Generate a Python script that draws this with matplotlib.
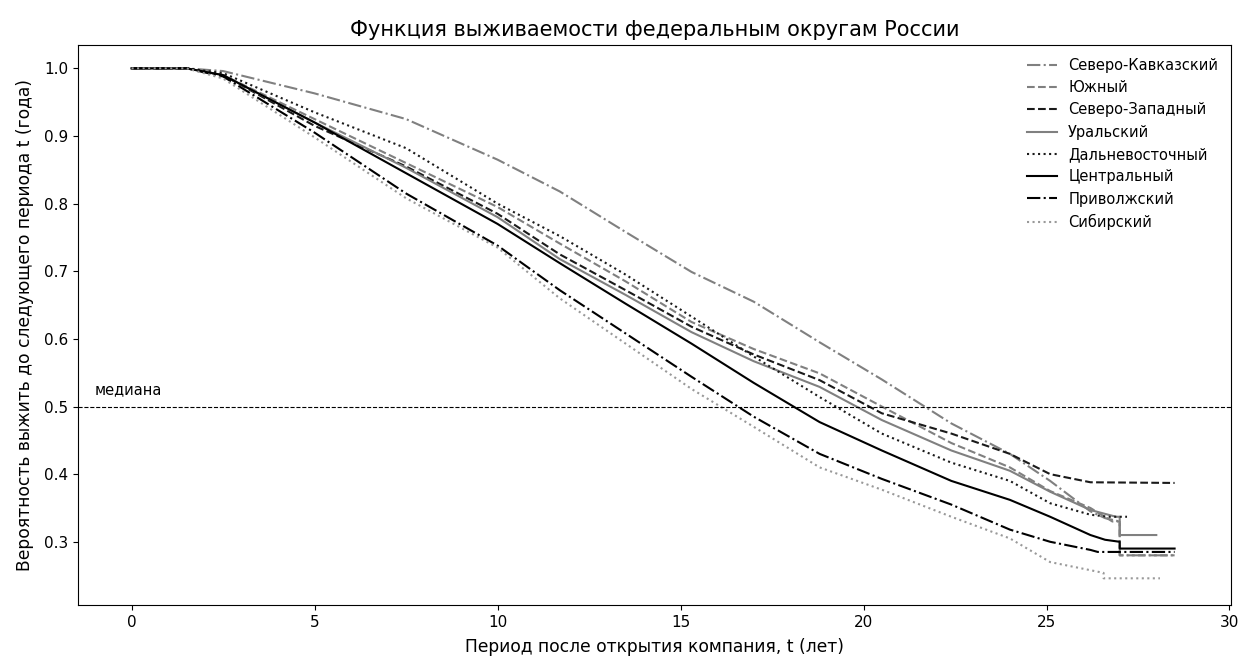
import matplotlib
matplotlib.use("Agg")
import matplotlib.pyplot as plt

# Kaplan-Meier style survival curves
t_grid = [0, 1.5, 2.5, 5, 7.5, 10, 11.7, 13.5, 15.3, 17, 18.8, 20.5, 22.4, 24, 25.1, 26.2]

kavkaz = [1.0, 1.0, 0.996, 0.963, 0.925, 0.865, 0.818, 0.758, 0.699, 0.655, 0.595, 0.54, 0.475, 0.43, 0.39, 0.345]
kavkaz_tail_t = [26.6, 27.0, 27.0, 28.5]
kavkaz_tail_s = [0.335, 0.33, 0.28, 0.28]

yuzh = [1.0, 1.0, 0.99, 0.925, 0.86, 0.795, 0.741, 0.685, 0.625, 0.585, 0.549, 0.5, 0.446, 0.41, 0.375, 0.35]
yuzh_tail_t = [26.8, 27.0, 27.0, 28.5]
yuzh_tail_s = [0.33, 0.33, 0.28, 0.28]

szap = [1.0, 1.0, 0.99, 0.915, 0.855, 0.785, 0.725, 0.672, 0.618, 0.577, 0.539, 0.49, 0.46, 0.43, 0.40, 0.388]
szap_tail_t = [28.5]
szap_tail_s = [0.387]

ural = [1.0, 1.0, 0.99, 0.92, 0.853, 0.78, 0.718, 0.665, 0.61, 0.567, 0.529, 0.48, 0.435, 0.405, 0.374, 0.347]
ural_tail_t = [26.9, 27.0, 27.0, 28.0]
ural_tail_s = [0.337, 0.337, 0.31, 0.31]

dvost = [1.0, 1.0, 0.993, 0.935, 0.882, 0.80, 0.752, 0.695, 0.633, 0.574, 0.514, 0.46, 0.417, 0.39, 0.357, 0.34]
dvost_tail_t = [26.7, 27.2]
dvost_tail_s = [0.337, 0.337]

centr = [1.0, 1.0, 0.99, 0.92, 0.845, 0.77, 0.712, 0.652, 0.593, 0.535, 0.477, 0.435, 0.39, 0.362, 0.337, 0.31]
centr_tail_t = [26.6, 27.0, 27.0, 28.5]
centr_tail_s = [0.303, 0.30, 0.29, 0.29]

privol = [1.0, 1.0, 0.988, 0.905, 0.815, 0.738, 0.672, 0.608, 0.544, 0.485, 0.43, 0.393, 0.355, 0.318, 0.30, 0.288]
privol_tail_t = [26.4, 28.5]
privol_tail_s = [0.285, 0.285]

sibir = [1.0, 1.0, 0.985, 0.898, 0.808, 0.735, 0.66, 0.593, 0.526, 0.47, 0.41, 0.377, 0.337, 0.305, 0.27, 0.258]
sibir_tail_t = [26.56, 26.56, 28.1]
sibir_tail_s = [0.254, 0.246, 0.246]

fig = plt.figure(figsize=(12.4, 6.57), dpi=100)
ax = fig.add_axes([0.063, 0.079, 0.930, 0.853])

series = [
    ("Северо-Кавказский", kavkaz, kavkaz_tail_t, kavkaz_tail_s, "-.", "0.5"),
    ("Южный", yuzh, yuzh_tail_t, yuzh_tail_s, "--", "0.5"),
    ("Северо-Западный", szap, szap_tail_t, szap_tail_s, "--", "0.1"),
    ("Уральский", ural, ural_tail_t, ural_tail_s, "-", "0.5"),
    ("Дальневосточный", dvost, dvost_tail_t, dvost_tail_s, ":", "0.1"),
    ("Центральный", centr, centr_tail_t, centr_tail_s, "-", "0.0"),
    ("Приволжский", privol, privol_tail_t, privol_tail_s, "-.", "0.0"),
    ("Сибирский", sibir, sibir_tail_t, sibir_tail_s, ":", "0.6"),
]

for name, vals, tt, ts, ls, col in series:
    ax.plot(t_grid + tt, vals + ts, linestyle=ls, color=col, lw=1.5, label=name)

ax.axhline(0.5, color="black", linestyle="--", lw=0.8)
ax.text(-1, 0.518, "медиана", fontsize=10.5)

ax.set_xlim(-1.46, 30.05)
ax.set_ylim(0.2064, 1.035)
ax.set_xticks([0, 5, 10, 15, 20, 25, 30])
ax.set_yticks([0.3, 0.4, 0.5, 0.6, 0.7, 0.8, 0.9, 1.0])
ax.tick_params(labelsize=11)

ax.set_title("Функция выживаемости федеральным округам России", fontsize=15)
ax.set_xlabel("Период после открытия компания, t (лет)", fontsize=12.3, labelpad=6)
ax.set_ylabel("Вероятность выжить до следующего периода t (года)", fontsize=12.3, labelpad=7)
ax.legend(loc="upper right", frameon=False, fontsize=10.5)

plt.savefig("out.png")
